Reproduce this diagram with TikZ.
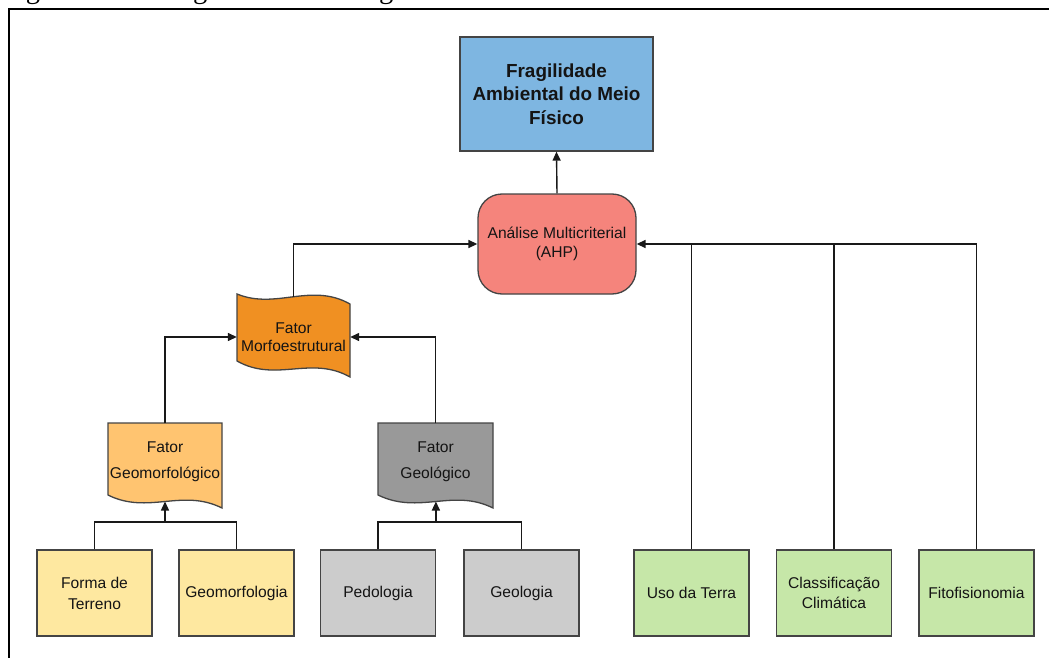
\documentclass[tikz,border=0pt]{standalone}
\usepackage{fontspec}
\setmainfont{Liberation Sans}
\newfontfamily\capfont{Liberation Serif}
\usetikzlibrary{arrows.meta}
\definecolor{cFrag}{RGB}{126,182,225}
\definecolor{cAhp}{RGB}{245,132,124}
\definecolor{cMorf}{RGB}{240,144,34}
\definecolor{cGeomf}{RGB}{255,196,112}
\definecolor{cGeol}{RGB}{153,153,153}
\definecolor{cYel}{RGB}{254,232,160}
\definecolor{cGray}{RGB}{204,204,204}
\definecolor{cGreen}{RGB}{198,231,168}
\definecolor{cLine}{RGB}{68,68,68}
\definecolor{cText}{RGB}{20,20,20}
\begin{document}
\begin{tikzpicture}[x=1pt,y=-1pt,
  shapeline/.style={draw=cLine,line width=1.3pt},
  lbl/.style={text=cText,align=center,inner sep=0pt},
  sq/.style={shapeline,lbl,minimum width=115pt,minimum height=86pt},
  conn/.style={draw=black!90,line width=1.4pt},
  arr/.style={conn,-{Triangle[length=9pt,width=8pt]}},
  fs/.style={font=\fontsize{15.6}{21}\selectfont},
]
\useasboundingbox (0,0) rectangle (1049,658);
\clip (0,0) rectangle (1049,658);
\fill[white] (0,0) rectangle (1049,658);
% cropped caption (only its lowest part shows)
\node[anchor=base west,inner sep=0pt,font=\capfont\fontsize{28.5}{30}\selectfont] (cap) at (2,-1.5) {Figura 1 – Fluxograma metodológico};
% frame
\draw[line width=2pt] (9,680) -- (9,9) -- (1070,9);

% top
\node[sq,fill=cFrag,minimum width=193pt,minimum height=114pt,font=\bfseries\fontsize{18.9}{23.5}\selectfont] (frag) at (556.5,94) {Fragilidade\\Ambiental do Meio\\Físico};
\node[shapeline,lbl,fill=cAhp,rounded corners=24pt,minimum width=158pt,minimum height=100pt,font=\fontsize{15.6}{19}\selectfont] (ahp) at (557,244) {Análise Multicriterial\\(AHP)};

% morfoestrutural (tape)
\path[shapeline,fill=cMorf] (237,294) .. controls (276,310) and (311,282) .. (350,304) -- (350,377) .. controls (311,355) and (276,383) .. (237,361) -- cycle;
\node[lbl,font=\fontsize{15.6}{18.5}\selectfont,minimum width=113pt,minimum height=87pt] (morfo) at (293.5,337) {Fator\\Morfoestrutural};
\coordinate (mtop) at (293.5,297);

% documents
\path[shapeline,fill=cGeomf] (108,423) -- (222,423) -- (222,508) .. controls (182,488) and (148,515) .. (108,495) -- cycle;
\node[lbl,font=\fontsize{15.6}{26}\selectfont,minimum width=114pt,minimum height=76pt] (gmf) at (165,461.5) {Fator\\Geomorfológico};
\coordinate (gmfb) at (165,501.5);

\path[shapeline,fill=cGeol] (378,423) -- (493,423) -- (493,508) .. controls (453,488) and (419,515) .. (378,495) -- cycle;
\node[lbl,font=\fontsize{15.6}{26}\selectfont,minimum width=115pt,minimum height=76pt] (geo) at (435.5,461.5) {Fator\\Geológico};
\coordinate (geob) at (435.9,501.5);

% bottom boxes
\node[sq,fs,fill=cYel] (forma) at (94.5,593) {Forma de\\Terreno};
\node[sq,fs,fill=cYel] (geomorfologia) at (236.5,593) {Geomorfologia};
\node[sq,fs,fill=cGray] (pedologia) at (378,593) {Pedologia};
\node[sq,fs,fill=cGray] (geologia) at (521.5,593) {Geologia};
\node[sq,fs,fill=cGreen] (uso) at (691.5,593) {Uso da Terra};
\node[sq,fs,fill=cGreen,font=\fontsize{15.6}{20}\selectfont] (clim) at (834,593) {Classificação\\Climática};
\node[sq,fs,fill=cGreen] (fito) at (976.5,593) {Fitofisionomia};

% connectors
\coordinate (j1) at (165,522);
\coordinate (j2) at (435.9,522);
\draw[conn] (forma.north) |- (j1) -| (geomorfologia.north);
\draw[arr] (j1) -- (gmfb);
\draw[conn] (pedologia.north) |- (j2) -| (geologia.north);
\draw[arr] (j2) -- (geob);

\draw[arr] (gmf.north) |- (morfo.west);
\draw[arr] (geo.north) |- (morfo.east);
\draw[arr] (mtop) |- (ahp.west);

\draw[arr] (fito.north) |- (ahp.east);
\draw[conn] (uso.north) -- (uso.north |- ahp.east);
\draw[conn] (clim.north) -- (clim.north |- ahp.east);

\draw[arr] (ahp.north) -- (frag.south);
\end{tikzpicture}
\end{document}
